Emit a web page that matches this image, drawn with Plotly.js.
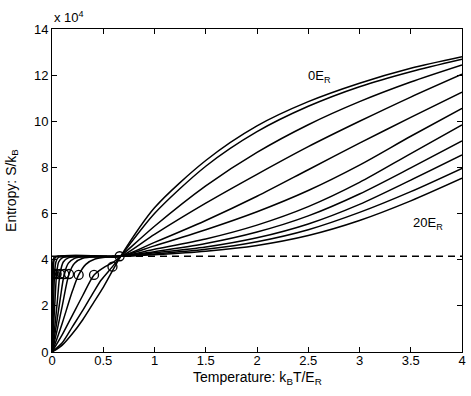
<!DOCTYPE html>
<html>
<head>
<meta charset="utf-8">
<script src="https://cdn.plot.ly/plotly-3.0.1.min.js"></script>
<style>html,body{margin:0;padding:0;background:#fff;}#chart{width:471px;height:396px;}</style>
</head>
<body>
<div id="chart"></div>
<script>
// Entropy S/kB in units of 1e4, temperature kB T / E_R
// Low-temperature parts (one per lattice depth 0,2,...,20 E_R)
const lowT_0  = [0, 0.1, 0.2, 0.3, 0.4, 0.5, 0.6];
const lowS_0  = [0, 0.3, 0.8, 1.4, 2.1, 2.8, 3.6];
const lowT_2  = [0, 0.1, 0.2, 0.3, 0.4, 0.48, 0.59];
const lowS_2  = [0, 0.4, 1.1, 1.8, 2.55, 3.12, 3.7];
const lowT_4  = [0, 0.1, 0.2, 0.3, 0.41, 0.5, 0.6];
const lowS_4  = [0, 0.75, 1.6, 2.45, 3.34, 3.65, 3.9];
const lowT_6  = [0, 0.05, 0.1, 0.2, 0.26, 0.33, 0.42, 0.55];
const lowS_6  = [0, 0.6, 1.25, 2.65, 3.34, 3.8, 4.03, 4.12];
const lowT_8  = [0, 0.05, 0.1, 0.166, 0.22, 0.3, 0.45];
const lowS_8  = [0, 0.95, 2.0, 3.38, 3.85, 4.06, 4.13];
const lowT_10 = [0, 0.04, 0.08, 0.12, 0.16, 0.22, 0.35];
const lowS_10 = [0, 1.1, 2.3, 3.38, 3.85, 4.06, 4.13];
const lowT_12 = [0, 0.025, 0.05, 0.078, 0.11, 0.16, 0.3];
const lowS_12 = [0, 1.0, 2.1, 3.38, 3.9, 4.08, 4.14];
const lowT_14 = [0, 0.015, 0.03, 0.045, 0.065, 0.1, 0.2];
const lowS_14 = [0, 1.1, 2.3, 3.38, 3.9, 4.08, 4.14];
const lowT_16 = [0, 0.008, 0.016, 0.025, 0.038, 0.06, 0.15];
const lowS_16 = [0, 1.0, 2.2, 3.38, 3.9, 4.09, 4.14];
const lowT_18 = [0, 0.004, 0.008, 0.012, 0.02, 0.04];
const lowS_18 = [0, 1.1, 2.3, 3.38, 3.95, 4.12];
const lowT_20 = [0, 0.002, 0.004, 0.005, 0.01, 0.025];
const lowS_20 = [0, 1.3, 2.7, 3.38, 3.95, 4.12];

// High-temperature parts, shared temperatures
const highT = [0.67, 1, 1.5, 2, 2.5, 3, 3.5, 4];
const highS_0  = [4.15, 6.25, 8.3, 9.8, 10.85, 11.65, 12.3, 12.8];
const highS_2  = [4.15, 6.0, 8.05, 9.55, 10.65, 11.5, 12.15, 12.69];
const highS_4  = [4.15, 5.45, 7.2, 8.65, 9.85, 10.85, 11.7, 12.44];
const highS_6  = [4.15, 5.1, 6.45, 7.7, 8.9, 10.0, 11.05, 12.04];
const highS_8  = [4.15, 4.75, 5.7, 6.75, 7.9, 9.05, 10.17, 11.26];
const highS_10 = [4.15, 4.6, 5.3, 6.08, 7.0, 8.1, 9.35, 10.56];
const highS_12 = [4.15, 4.45, 4.9, 5.5, 6.3, 7.35, 8.6, 9.84];
const highS_14 = [4.15, 4.35, 4.7, 5.2, 5.9, 6.85, 7.98, 9.15];
const highS_16 = [4.15, 4.3, 4.55, 4.95, 5.55, 6.4, 7.45, 8.54];
const highS_18 = [4.15, 4.25, 4.45, 4.78, 5.3, 6.05, 6.95, 7.96];
const highS_20 = [4.15, 4.22, 4.37, 4.62, 5.05, 5.7, 6.55, 7.53];

// Circle markers (one per curve)
const circleT = [0.66, 0.59, 0.41, 0.26, 0.166, 0.12, 0.078, 0.045, 0.025, 0.012, 0.005];
const circleS = [4.15, 3.7, 3.34, 3.34, 3.38, 3.38, 3.38, 3.38, 3.38, 3.38, 3.38];

// Plateau (dashed)
const plateauT = [0, 4];
const plateauS = [4.15, 4.15];

const xTicks = [0, 0.5, 1, 1.5, 2, 2.5, 3, 3.5, 4];
const xTickText = ['0', '0.5', '1', '1.5', '2', '2.5', '3', '3.5', '4'];
const yTicks = [0, 2, 4, 6, 8, 10, 12, 14];

const lows = [[lowT_0, lowS_0], [lowT_2, lowS_2], [lowT_4, lowS_4], [lowT_6, lowS_6], [lowT_8, lowS_8], [lowT_10, lowS_10], [lowT_12, lowS_12], [lowT_14, lowS_14], [lowT_16, lowS_16], [lowT_18, lowS_18], [lowT_20, lowS_20]];
const highs = [highS_0, highS_2, highS_4, highS_6, highS_8, highS_10, highS_12, highS_14, highS_16, highS_18, highS_20];

const traces = [];
traces.push({x: plateauT, y: plateauS, mode: 'lines', line: {color: '#000', width: 1.3, dash: '7px,5px'}, hoverinfo: 'skip'});
for (let i = 0; i < lows.length; i++) {
  const xs = lows[i][0].concat(highT);
  const ys = lows[i][1].concat(highs[i]);
  traces.push({x: xs, y: ys, mode: 'lines', line: {color: '#000', width: 1.5, shape: 'spline', smoothing: 0.8}, hoverinfo: 'skip'});
}
traces.push({x: circleT, y: circleS, mode: 'markers', marker: {symbol: 'circle-open', size: 9, color: '#000', line: {width: 1.3, color: '#000'}}, hoverinfo: 'skip'});

const font = {family: 'Liberation Sans, Arial, sans-serif', size: 13, color: '#000'};
const titleFont = {family: 'Liberation Sans, Arial, sans-serif', size: 14, color: '#000'};
const layout = {
  width: 471, height: 396,
  margin: {l: 52, r: 9, t: 29, b: 44},
  showlegend: false,
  paper_bgcolor: '#fff', plot_bgcolor: '#fff',
  font: font,
  xaxis: {
    range: [0, 4], tickvals: xTicks, ticktext: xTickText,
    ticks: 'inside', ticklen: 5, tickcolor: '#000', tickwidth: 1,
    showline: true, linecolor: '#000', linewidth: 1, mirror: 'ticks',
    showgrid: false, zeroline: false, ticklabelstandoff: -4
  },
  yaxis: {
    range: [0, 14], tickvals: yTicks,
    ticks: 'inside', ticklen: 5, tickcolor: '#000', tickwidth: 1,
    showline: true, linecolor: '#000', linewidth: 1, mirror: 'ticks',
    showgrid: false, zeroline: false,
    title: {text: 'Entropy: S/k<sub>B</sub>', font: titleFont, standoff: 14}
  },
  annotations: [
    {x: 0.5, y: 0, xref: 'paper', yref: 'paper', xanchor: 'center', yanchor: 'top', yshift: -15, text: 'Temperature: k<sub>B</sub>T/E<sub>R</sub>', showarrow: false, font: titleFont},
    {x: 2.61, y: 11.96, xref: 'x', yref: 'y', text: '0E<sub>R</sub>', showarrow: false, font: font},
    {x: 3.67, y: 5.55, xref: 'x', yref: 'y', text: '20E<sub>R</sub>', showarrow: false, font: font},
    {x: 0, y: 1, xref: 'paper', yref: 'paper', xanchor: 'left', yanchor: 'bottom', yshift: 2, text: 'x 10<sup>4</sup>', showarrow: false, font: font}
  ]
};
Plotly.newPlot('chart', traces, layout, {staticPlot: true, displayModeBar: false});
</script>
</body>
</html>
